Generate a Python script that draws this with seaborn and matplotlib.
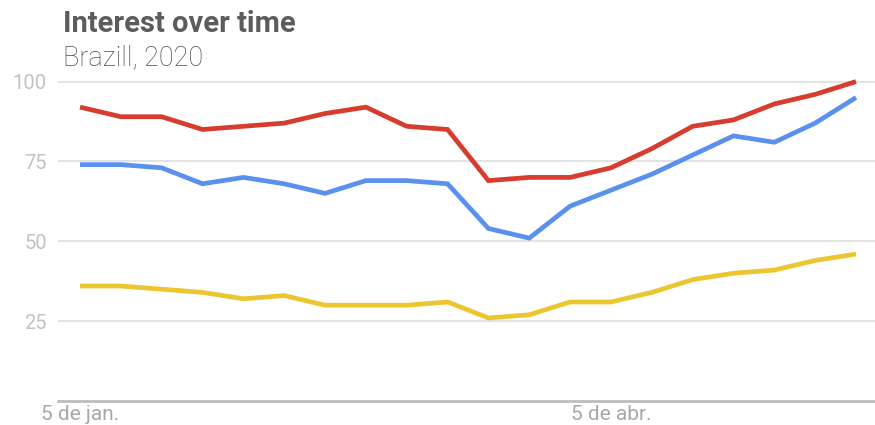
import matplotlib
matplotlib.use("Agg")
import matplotlib.pyplot as plt
import numpy as np
import pandas as pd
import seaborn as sns

# Weekly search interest, Brazil 2020
weeks = pd.date_range("2020-01-05", periods=20, freq="7D")
term_a = [92, 89, 89, 85, 86, 87, 90, 92, 86, 85, 69, 70, 70, 73, 79, 86, 88, 93, 96, 100]
term_b = [74, 74, 73, 68, 70, 68, 65, 69, 69, 68, 54, 51, 61, 66, 71, 77, 83, 81, 87, 95]
term_c = [36, 36, 35, 34, 32, 33, 30, 30, 30, 31, 26, 27, 31, 31, 34, 38, 40, 41, 44, 46]
series_names = ["Term A", "Term B", "Term C"]
palette = ["#d63d2f", "#5a91ee", "#ecc631"]

y_ticks = [25, 50, 75, 100]
x_tick_dates = pd.to_datetime(["2020-01-05", "2020-04-05"])
x_tick_labels = ["5 de jan.", "5 de abr."]

df = pd.DataFrame({
    "week": np.tile(weeks, 3),
    "interest": term_a + term_b + term_c,
    "term": np.repeat(series_names, len(weeks)),
})

sns.set_theme(style="white")
plt.rcParams["font.family"] = ["Roboto", "DejaVu Sans"]

fig = plt.figure(figsize=(8.75, 4.25), dpi=100)
ax = fig.add_axes([58 / 875, 24 / 425, 1 - 58 / 875, (401 - 72) / 425])

sns.lineplot(data=df, x="week", y="interest", hue="term", hue_order=series_names,
             palette=palette, linewidth=3.4, legend=False, ax=ax,
             solid_joinstyle="miter", solid_capstyle="butt")

step = weeks[1] - weeks[0]
ax.set_xlim(weeks[0] - step * 0.539, weeks[-1] + step * 0.465)
ax.set_ylim(0, 103)

ax.set_yticks(y_ticks)
ax.set_yticklabels([str(v) for v in y_ticks])
ax.yaxis.grid(True, color="#e3e3e3", linewidth=1.5)
ax.set_axisbelow(True)
ax.tick_params(axis="y", length=0, pad=8, labelsize=14.5, labelcolor="#c2c2c2")

ax.set_xticks(x_tick_dates)
ax.set_xticklabels(x_tick_labels)
ax.tick_params(axis="x", length=0, pad=3, labelsize=15, labelcolor="#a8a8a8")

for side in ["top", "right", "left"]:
    ax.spines[side].set_visible(False)
ax.spines["bottom"].set_color("#bdbdbd")
ax.spines["bottom"].set_linewidth(2)

ax.set_xlabel("")
ax.set_ylabel("")

fig.text(63 / 875, 1 - 32 / 425, "Interest over time", fontsize=21,
         fontweight="bold", color="#5c5c5c", va="baseline", ha="left")
fig.text(63 / 875, 1 - 65 / 425, "Brazill, 2020", fontsize=19.5, fontweight="light",
         color="#4f4f4f", va="baseline", ha="left")

fig.savefig("out.png", dpi=100)
